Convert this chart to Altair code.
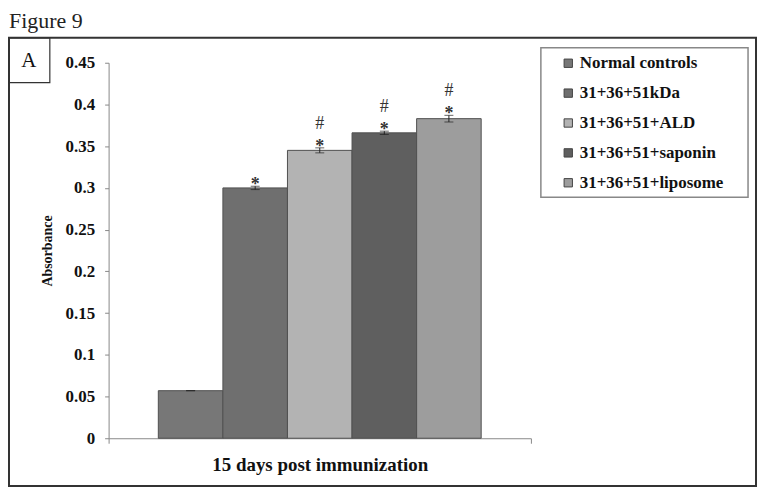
import altair as alt
import pandas as pd

groups = ["Normal controls", "31+36+51kDa", "31+36+51+ALD", "31+36+51+saponin", "31+36+51+liposome"]
values = [0.057, 0.300, 0.345, 0.366, 0.383]
errors = [0.0, 0.002, 0.003, 0.002, 0.004]
stars = ["", "*", "*", "*", "*"]
hashes = ["", "", "#", "#", "#"]
colors = ["#777777", "#6f6f6f", "#b3b3b3", "#5f5f5f", "#9d9d9d"]
category = "15 days post immunization"
y_ticks = [0, 0.05, 0.1, 0.15, 0.2, 0.25, 0.3, 0.35, 0.4, 0.45]

df = pd.DataFrame({
    "cat": [category] * len(groups),
    "group": groups,
    "value": values,
    "lo": [v - e for v, e in zip(values, errors)],
    "hi": [v + e for v, e in zip(values, errors)],
    "star": stars,
    "hash": hashes,
})

SERIF = "Liberation Serif"

x_enc = alt.X("cat:N", title=None,
              scale=alt.Scale(paddingInner=0, paddingOuter=0),
              axis=alt.Axis(labelFont=SERIF, labelFontSize=19, labelFontWeight="bold",
                            labelColor="#111", labelPadding=12, labelAngle=0,
                            domainColor="#888", tickColor="#888", tickSize=5,
                            tickBand="extent", labelLimit=400))
xo_enc = alt.XOffset("group:N", sort=groups,
                     scale=alt.Scale(domain=groups, paddingInner=0, paddingOuter=0.77))
y_enc = alt.Y("value:Q", title="Absorbance",
              scale=alt.Scale(domain=[0, 0.45], nice=False),
              axis=alt.Axis(values=y_ticks, format=".2~f", grid=False,
                            labelFont=SERIF, labelFontSize=17, labelFontWeight="bold",
                            labelColor="#111", labelPadding=10,
                            titleFont=SERIF, titleFontSize=14, titleFontWeight="bold",
                            titleColor="#111", titlePadding=11,
                            domainColor="#888", tickColor="#888", tickSize=4))

base = alt.Chart(df)

bars = base.mark_bar(stroke="#505050", strokeWidth=1).encode(
    x=x_enc, xOffset=xo_enc, y=y_enc,
    color=alt.Color("group:N", sort=groups,
                    scale=alt.Scale(domain=groups, range=colors),
                    legend=alt.Legend(title=None, orient="none", legendX=453, legendY=-8,
                                      symbolType="square", symbolSize=70,
                                      symbolStrokeColor="#444", symbolStrokeWidth=1,
                                      labelFont=SERIF, labelFontSize=17, labelFontWeight="bold",
                                      labelColor="#111", labelOffset=3, rowPadding=12,
                                      padding=0, labelLimit=300)),
)

err = base.mark_rule(color="#222", strokeWidth=1).encode(
    x="cat:N", xOffset=xo_enc, y="lo:Q", y2="hi:Q")
cap_hi = base.mark_tick(color="#222", thickness=1, size=9).encode(
    x="cat:N", xOffset=xo_enc, y="hi:Q")
cap_lo = base.mark_tick(color="#222", thickness=1, size=9).encode(
    x="cat:N", xOffset=xo_enc, y="lo:Q")

star_txt = base.mark_text(font=SERIF, fontSize=18, fontWeight="bold", color="#333",
                          baseline="alphabetic", dy=4).encode(
    x="cat:N", xOffset=xo_enc, y="hi:Q", text="star:N")
hash_txt = base.mark_text(font=SERIF, fontSize=18, color="#333",
                          baseline="alphabetic", dy=-19).encode(
    x="cat:N", xOffset=xo_enc, y="hi:Q", text="hash:N")

one = pd.DataFrame({"k": [0]})
outer_box = alt.Chart(one).mark_rect(fillOpacity=0, stroke="#333", strokeWidth=2).encode(
    x=alt.value(-100), x2=alt.value(650), y=alt.value(-25), y2=alt.value(425))
a_box = alt.Chart(one).mark_rect(fillOpacity=0, stroke="#333", strokeWidth=1.2).encode(
    x=alt.value(-100), x2=alt.value(-59), y=alt.value(-25), y2=alt.value(20))
legend_box = alt.Chart(one).mark_rect(fillOpacity=0, stroke="#888", strokeWidth=1.5).encode(
    x=alt.value(434), x2=alt.value(642), y=alt.value(-15), y2=alt.value(135))
a_txt = alt.Chart(pd.DataFrame({"t": ["A"]})).mark_text(
    font=SERIF, fontSize=21, color="#111", baseline="middle", align="center").encode(
    x=alt.value(-80), y=alt.value(-2), text="t:N")
fig_txt = alt.Chart(pd.DataFrame({"t": ["Figure 9"]})).mark_text(
    font=SERIF, fontSize=22, color="#222", baseline="alphabetic", align="left").encode(
    x=alt.value(-100), y=alt.value(-35), text="t:N")

chart = alt.layer(bars, err, cap_hi, cap_lo, star_txt, hash_txt,
                  outer_box, a_box, legend_box, a_txt, fig_txt).properties(
    width=424, height=377,
    autosize=alt.AutoSizeParams(type="none"),
    padding={"left": 101, "top": 54, "right": 228, "bottom": 51},
).configure_view(stroke=None)

chart.save("out.html", embed_options={"renderer": "svg", "actions": False})
